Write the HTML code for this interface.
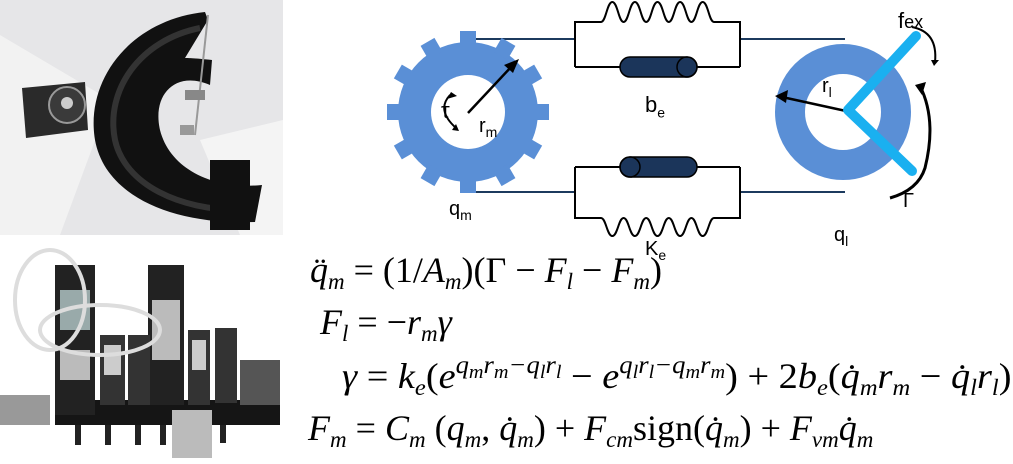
<!DOCTYPE html>
<html><head><meta charset="utf-8"><style>
html,body{margin:0;padding:0;background:#fff;}
body{width:1013px;height:464px;position:relative;overflow:hidden;font-family:"Liberation Sans",sans-serif;}
.eq{position:absolute;font-family:"Liberation Serif",serif;font-size:36px;white-space:nowrap;line-height:1;color:#000;transform-origin:0 0;}
.eq i{font-style:italic;}
.eq sub{font-size:23px;vertical-align:-7px;line-height:0;}
.eq sup{font-size:25px;vertical-align:15px;line-height:0;}
.eq sup sub{font-size:19px;vertical-align:-5px;}
</style></head><body>
<svg width="1013" height="464" style="position:absolute;left:0;top:0">
<!-- top photo -->
<rect x="0" y="0" width="283" height="235" fill="#e6e6e8"/>
<polygon points="0,35 110,100 60,235 0,235" fill="#f2f2f2"/>
<polygon points="200,140 283,120 283,235 240,235" fill="#f4f4f4"/>
<polygon points="22,88 85,82 88,130 26,138" fill="#2a2a2a"/>
<circle cx="67" cy="105" r="18" fill="#3a3a3a" stroke="#999" stroke-width="2"/>
<circle cx="67" cy="103" r="6" fill="#ccc"/>
<path d="M205,12 C130,20 85,80 95,140 C105,195 170,225 255,222 L262,185 C215,190 170,170 160,130 C152,95 175,70 210,85 L212,60 C195,58 185,58 185,58 L208,20 Z" fill="#111"/>
<path d="M200,28 C140,40 105,90 115,140 C125,185 180,210 240,210" fill="none" stroke="#333" stroke-width="6"/>
<line x1="208" y1="15" x2="195" y2="135" stroke="#999" stroke-width="2"/>
<rect x="185" y="90" width="20" height="10" fill="#888"/>
<rect x="180" y="125" width="14" height="10" fill="#999"/>
<rect x="210" y="160" width="40" height="70" fill="#111"/>
<!-- bottom photo -->
<rect x="0" y="238" width="283" height="220" fill="#fff"/>
<rect x="55" y="400" width="225" height="25" fill="#151515"/>
<rect x="55" y="265" width="40" height="150" fill="#222"/>
<rect x="60" y="290" width="30" height="40" fill="#9aa"/>
<rect x="60" y="350" width="30" height="30" fill="#bbb"/>
<rect x="148" y="265" width="36" height="140" fill="#222"/>
<rect x="152" y="300" width="28" height="60" fill="#bbb"/>
<rect x="100" y="335" width="25" height="70" fill="#333"/>
<rect x="104" y="345" width="17" height="30" fill="#ccc"/>
<rect x="128" y="335" width="22" height="70" fill="#333"/>
<rect x="188" y="330" width="22" height="75" fill="#333"/>
<rect x="192" y="340" width="14" height="30" fill="#ccc"/>
<rect x="215" y="328" width="22" height="75" fill="#333"/>
<rect x="172" y="410" width="40" height="48" fill="#bbb"/>
<rect x="0" y="395" width="50" height="30" fill="#999"/>
<rect x="240" y="360" width="40" height="45" fill="#555"/>
<ellipse cx="50" cy="300" rx="35" ry="50" fill="none" stroke="#ddd" stroke-width="4"/>
<ellipse cx="100" cy="330" rx="60" ry="25" fill="none" stroke="#ddd" stroke-width="4"/>
<g fill="#222"><rect x="75" y="425" width="6" height="20"/><rect x="105" y="425" width="6" height="20"/><rect x="135" y="425" width="6" height="20"/><rect x="160" y="425" width="6" height="20"/><rect x="220" y="425" width="6" height="18"/></g>

<!-- diagram -->
<g stroke="#1c3a5e" stroke-width="2" fill="none">
<line x1="476" y1="39" x2="575" y2="39"/><line x1="740" y1="39" x2="845" y2="39"/>
<line x1="476" y1="192" x2="575" y2="192"/><line x1="740" y1="192" x2="845" y2="192"/>
</g>
<g stroke="#000" stroke-width="2" fill="none">
<polyline points="575,67 575,22 601,22"/><polyline points="714,22 740,22 740,67"/>
<polyline points="575,67 620,67"/><polyline points="697,67 740,67"/>
<path d="M601,22 C606,22 607,2 612.3,2 C617.6,2 618.6,22 623.6,22 C628.6,22 629.6,2 634.9,2 C640.2,2 641.2,22 646.2,22 C651.2,22 652.2,2 657.5,2 C662.8,2 663.8,22 668.8,22 C673.8,22 674.8,2 680.1,2 C685.4,2 686.4,22 691.4,22 C696.4,22 697.4,2 702.7,2 C708,2 709,22 714,22"/>
<polyline points="575,167 575,218 601,218"/><polyline points="714,218 740,218 740,167"/>
<polyline points="575,167 620,167"/><polyline points="697,167 740,167"/>
<path d="M601,218 C606,218 607,236 612.3,236 C617.6,236 618.6,218 623.6,218 C628.6,218 629.6,236 634.9,236 C640.2,236 641.2,218 646.2,218 C651.2,218 652.2,236 657.5,236 C662.8,236 663.8,218 668.8,218 C673.8,218 674.8,236 680.1,236 C685.4,236 686.4,218 691.4,218 C696.4,218 697.4,236 702.7,236 C708,236 709,218 714,218"/>
</g>
<g fill="#1b355a" stroke="#000" stroke-width="1.5">
<rect x="620" y="57" width="77" height="20" rx="10"/><ellipse cx="687" cy="67" rx="10" ry="10" fill="none"/>
<rect x="620" y="157" width="77" height="20" rx="10"/><ellipse cx="630" cy="167" rx="10" ry="10" fill="none"/>
</g>
<!-- gear -->
<g fill="#5a8fd6">
<circle cx="468" cy="112" r="70"/>
<g transform="translate(468,112)">
<rect x="-8" y="-81" width="16" height="16" transform="rotate(0)"/><rect x="-8" y="-81" width="16" height="16" transform="rotate(30)"/><rect x="-8" y="-81" width="16" height="16" transform="rotate(60)"/><rect x="-8" y="-81" width="16" height="16" transform="rotate(90)"/><rect x="-8" y="-81" width="16" height="16" transform="rotate(120)"/><rect x="-8" y="-81" width="16" height="16" transform="rotate(150)"/><rect x="-8" y="-81" width="16" height="16" transform="rotate(180)"/><rect x="-8" y="-81" width="16" height="16" transform="rotate(210)"/><rect x="-8" y="-81" width="16" height="16" transform="rotate(240)"/><rect x="-8" y="-81" width="16" height="16" transform="rotate(270)"/><rect x="-8" y="-81" width="16" height="16" transform="rotate(300)"/><rect x="-8" y="-81" width="16" height="16" transform="rotate(330)"/>
</g></g>
<circle cx="468" cy="112" r="37" fill="#fff"/>
<line x1="468" y1="113" x2="512" y2="66" stroke="#000" stroke-width="2.5"/>
<polygon points="519,59 504,65 513,73" fill="#000"/>
<path d="M450,95 Q436,110 456,128" fill="none" stroke="#000" stroke-width="2"/>
<polygon points="451,92 457,96 447,99" fill="#000"/><polygon points="459,131 452,130 456,124" fill="#000"/>
<!-- load -->
<circle cx="843" cy="112" r="53" fill="none" stroke="#5a8fd6" stroke-width="30"/>
<line x1="846" y1="111" x2="782" y2="97" stroke="#000" stroke-width="2.5"/>
<polygon points="775,96 788,90 786,103" fill="#000"/>
<polyline points="916,36 848,110 912,171" fill="none" stroke="#1ab0f0" stroke-width="10" stroke-linecap="round" stroke-linejoin="round"/>
<path d="M912,27 Q938,32 935,62" fill="none" stroke="#000" stroke-width="2"/>
<polygon points="931,60 939,60 934,66" fill="#000"/>
<path d="M920,86 Q937,120 925,168 Q918,190 890,198" fill="none" stroke="#000" stroke-width="3"/>
<polygon points="915,85 926,82 922,95" fill="#000"/>
</svg>
<div style="position:absolute;left:441px;top:98px;font-size:22px">τ</div>
<div style="position:absolute;left:479px;top:115px;font-size:20px">r<sub style="font-size:14px">m</sub></div>
<div style="position:absolute;left:645px;top:92px;font-size:22px">b<sub style="font-size:14px">e</sub></div>
<div style="position:absolute;left:449px;top:198px;font-size:20px">q<sub style="font-size:14px">m</sub></div>
<div style="position:absolute;left:645px;top:238px;font-size:20px">K<sub style="font-size:14px">e</sub></div>
<div style="position:absolute;left:822px;top:75px;font-size:20px">r<sub style="font-size:14px">l</sub></div>
<div style="position:absolute;left:834px;top:224px;font-size:20px">q<sub style="font-size:14px">l</sub></div>
<div style="position:absolute;left:898px;top:8px;font-size:22px">f<span style="font-size:18px">ex</span></div>
<div style="position:absolute;left:903px;top:190px;font-size:20px">Γ</div>

<div class="eq" style="left:310px;top:252px"><i>q̈<sub>m</sub></i> = (1/<i>A<sub>m</sub></i>)(Γ − <i>F<sub>l</sub></i> − <i>F<sub>m</sub></i>)</div>
<div class="eq" style="left:320px;top:304px"><i>F<sub>l</sub></i> = −<i>r<sub>m</sub>γ</i></div>
<div class="eq" style="left:342px;top:358px;transform:scaleX(1.065)"><i>γ</i> = <i>k<sub>e</sub></i>(<i>e<sup>q<sub>m</sub>r<sub>m</sub>−q<sub>l</sub>r<sub>l</sub></sup></i> − <i>e<sup>q<sub>l</sub>r<sub>l</sub>−q<sub>m</sub>r<sub>m</sub></sup></i>) + 2<i>b<sub>e</sub></i>(<i>q̇<sub>m</sub>r<sub>m</sub></i> − <i>q̇<sub>l</sub>r<sub>l</sub></i>)</div>
<div class="eq" style="left:308px;top:410px"><i>F<sub>m</sub></i> = <i>C<sub>m</sub></i> (<i>q<sub>m</sub></i>, <i>q̇<sub>m</sub></i>) + <i>F<sub>cm</sub></i>sign(<i>q̇<sub>m</sub></i>) + <i>F<sub>vm</sub>q̇<sub>m</sub></i></div>
</body></html>
